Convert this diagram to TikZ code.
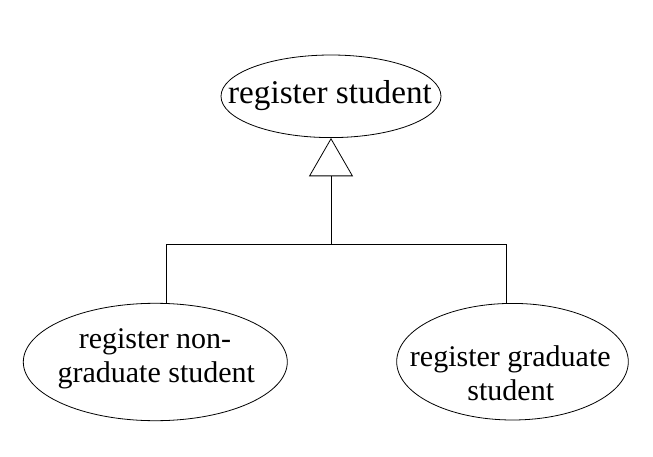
\documentclass[tikz,border=0pt]{standalone}
\usepackage{fontspec}
\setmainfont{Liberation Serif}
\usetikzlibrary{shapes.geometric,arrows.meta}
\begin{document}
\begin{tikzpicture}[x=1pt,y=-1pt,line width=0.8pt,
  uc/.style={draw,ellipse,inner sep=0pt},
  bigtxt/.style={anchor=base,inner sep=0pt,font=\fontsize{33.2}{38}\selectfont},
  txt/.style={anchor=base,inner sep=0pt,font=\fontsize{30}{35}\selectfont},
  inherit/.style={-{Triangle[open,length=38.3pt,width=44pt]}}]
\useasboundingbox (0,0) rectangle (653,457);
% use cases
\node[uc,minimum width=220pt,minimum height=82.6pt] (top) at (331,96.3) {};
\node[bigtxt] (topt) at (330,103.3) {register student};
\node[uc,minimum width=264pt,minimum height=117.4pt] (left) at (155.3,362) {};
\node[txt] (leftA) at (155,348) {register non-};
\node[txt] (leftB) at (156.3,382.7) {graduate student};
\node[uc,minimum width=231.6pt,minimum height=116.6pt] (right) at (512.5,361.7) {};
\node[txt] (rightA) at (510.3,366) {register graduate};
\node[txt] (rightB) at (510.8,400.7) {student};
% generalization
\coordinate (j) at (331,244.3);
\coordinate (jl) at (166.7,244.3);
\coordinate (jr) at (506.7,244.3);
\draw[inherit] (j) -- (top.south);
\draw (jl) -- (jr);
\draw (jl) -- (jl |- left.north);
\draw (jr) -- (jr |- right.north);
\end{tikzpicture}
\end{document}
